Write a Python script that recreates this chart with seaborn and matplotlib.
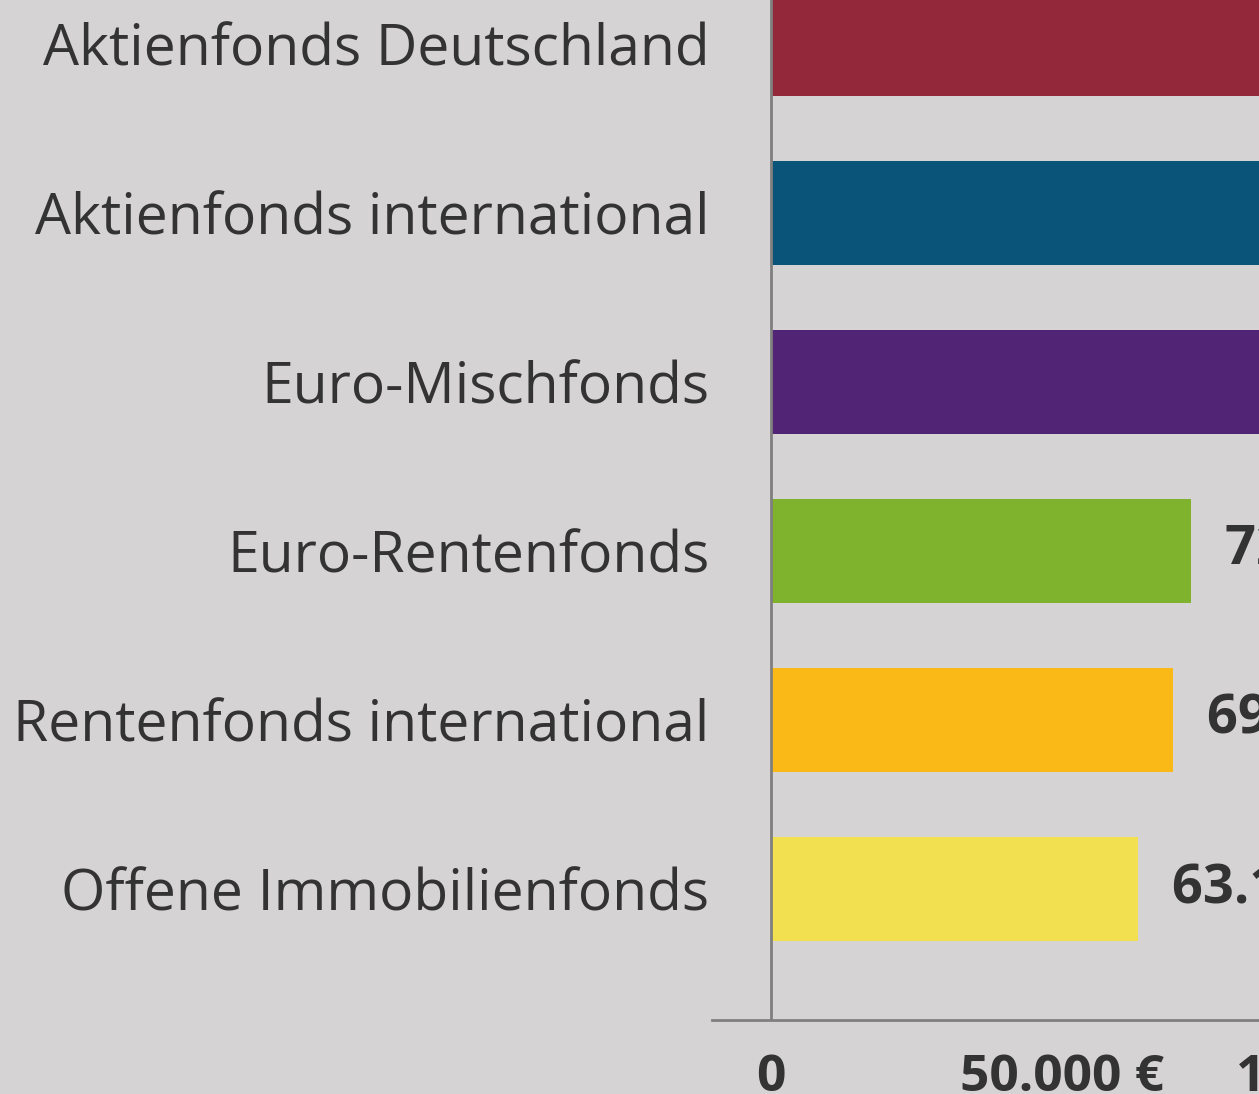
import pandas as pd
import numpy as np
import matplotlib.pyplot as plt
import seaborn as sns

# Data (top three bars run past the crop)
categories = ['Aktienfonds Deutschland', 'Aktienfonds international', 'Euro-Mischfonds',
              'Euro-Rentenfonds', 'Rentenfonds international', 'Offene Immobilienfonds']
values = [128000, 112000, 96000, 72150, 69050, 63100]
colors = ['#93283a', '#0b5479', '#522475', '#7fb32e', '#fbb917', '#f3e051']
tick_values = [0, 50000, 100000]
tick_labels = ['0', '50.000 €', '100.000 €']

df = pd.DataFrame({'Fonds': categories, 'Wert': values})

bg = '#d5d3d3'
text_col = '#333333'
line_col = '#7f7f7f'

sns.set_theme(style='white')
plt.rcParams['font.family'] = ['Open Sans', 'DejaVu Sans']

fig = plt.figure(figsize=(12.59, 10.94), dpi=100, facecolor=bg)
W, H = 1259, 1094
# axes run past the right edge of the figure (chart is a crop)
right_px = 1600
ax = fig.add_axes([712 / W, (H - 1020) / H, (right_px - 712) / W, 1020 / H])
ax.set_facecolor(bg)

sns.barplot(data=df, x='Wert', y='Fonds', hue='Fonds', palette=colors,
            orient='h', width=0.62, legend=False, ax=ax, saturation=1, linewidth=0)

ax.axvline(0, color=line_col, lw=2, zorder=3)
for s in ['top', 'right', 'left']:
    ax.spines[s].set_visible(False)
ax.spines['bottom'].set_color(line_col)
ax.spines['bottom'].set_linewidth(2)

ax.set_xticks(tick_values)
ax.set_xticklabels(tick_labels, fontsize=37, fontweight='bold', color=text_col)
ax.tick_params(axis='x', direction='in', length=24, width=1.5, color=line_col, pad=24)
ax.tick_params(axis='y', length=0, pad=2)
ax.set_yticks(range(len(categories)))
ax.set_yticklabels(categories, fontsize=41, color=text_col)
ax.set_xlabel('')
ax.set_ylabel('')

# pixel mapping: 0 -> 771 px, 50000 -> 1062 px (set after ticks so limits stay)
scale = 50000 / 291
ax.set_xlim(-59 * scale, (right_px - 771) * scale)
ax.set_ylim(5.775, -0.26)

for i, v in enumerate(values):
    lab = f'{v:,}'.replace(',', '.') + ' €'
    ax.text(v + 34 * scale, i, lab, va='center', ha='left', fontsize=39,
            fontweight='bold', color=text_col)

fig.savefig('out.png', dpi=100, facecolor=bg)
plt.close()
